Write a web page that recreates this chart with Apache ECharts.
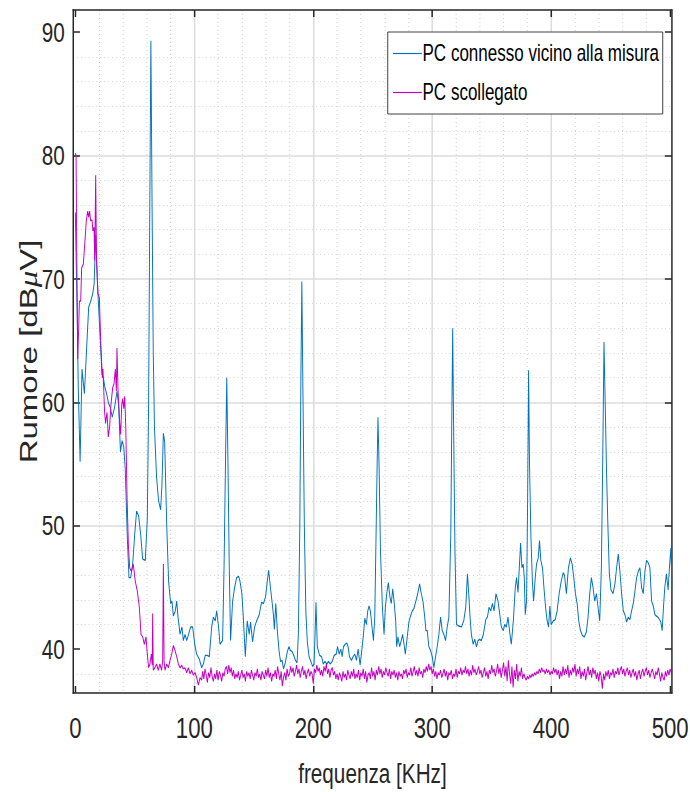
<!DOCTYPE html>
<html>
<head>
<meta charset="utf-8">
<title>Rumore</title>
<script src="https://cdn.jsdelivr.net/npm/echarts@6/dist/echarts.min.js"></script>
<style>
  html, body { margin: 0; padding: 0; background: #fff; overflow: hidden; width: 690px; height: 792px; }
  /* the original figure is squeezed horizontally: draw wide, then scale x */
  #chart { position: absolute; left: 0; top: 0; width: 932px; height: 792px; transform: scaleX(0.74); transform-origin: 0 0; }
</style>
</head>
<body>
<div id="chart"></div>
<script>
// tick labels
const xTicks = [0, 100, 200, 300, 400, 500];
const yTicks = [40, 50, 60, 70, 80, 90];

// PC connesso vicino alla misura (blue)
const blueFreq = [
  0, 0.8, 1.5, 2.5, 4, 5.6, 7.6, 9.5, 11.2, 12.9,
  14.6, 15.8, 17.1, 17.9, 19, 20.7, 22.4, 23.5, 24.9, 26.3,
  28, 29.4, 31, 33, 35, 36.4, 37.9, 39.3, 40.7, 42,
  43.7, 45.1, 46.5, 48.2, 49.9, 51.5, 53.2, 54.9, 56.6, 58.8,
  60.5, 61.6, 62.6, 63.5, 64.5, 65.5, 66.5, 68.3, 70, 71.7,
  72.8, 74, 75.1, 76.8, 78.4, 80.1, 81.2, 82.4, 84, 85.2,
  86.3, 88, 89.6, 90.8, 92.2, 93.6, 95.2, 96.9, 98.6, 100.5,
  102, 104.2, 106.2, 107.6, 109.2, 110.9, 112.6, 114.6, 116, 117.6,
  118.8, 120.4, 121.6, 123.8, 125, 126.2, 127.3, 128.3, 129.4, 130.5,
  132.2, 133.9, 135.6, 137.3, 138.4, 140, 141.2, 142.9, 144.5, 146.2,
  147.3, 149, 150.7, 152.4, 154.6, 156.5, 158.2, 160, 161.2, 162.5,
  164, 165.4, 166.5, 167.3, 168.5, 169.8, 171.2, 172.5, 173.8, 175,
  176.5, 178.2, 179.5, 180.8, 182.2, 183.6, 185, 186.4, 187.5, 188.7,
  189.6, 190.4, 191.3, 192.5, 193.8, 195, 196.5, 198, 199.5, 200.7,
  201.6, 202.3, 203.4, 205.3, 207, 208.4, 209.8, 211.5, 212.8, 214.2,
  215.9, 217.6, 219.3, 220.4, 221.8, 223.2, 224.3, 225.4, 226.8, 228.2,
  229.3, 230.4, 232.1, 233.5, 234.9, 236.3, 237.7, 239.4, 240.8, 242.2,
  243.3, 244.7, 245.8, 246.9, 248, 249.2, 250.6, 251.7, 252.8, 253.7,
  254.4, 255.3, 256.5, 258.1, 259.5, 260.6, 261.8, 263.1, 264.5, 265.6,
  266.8, 267.9, 269.3, 270.1, 271.2, 272.6, 274, 275.1, 276.3, 277.4,
  279, 280.4, 281.8, 283.2, 284.6, 286.3, 288, 289.4, 290.8, 292.2,
  293.6, 294.7, 295.8, 297.2, 298.6, 300, 301.4, 302.8, 304.2, 305.6,
  307, 308.4, 309.8, 311.2, 312.6, 314, 315.6, 316.4, 317.2, 318,
  319.1, 320.4, 321.8, 324.6, 326.5, 328.2, 329.6, 330.7, 331.8, 332.9,
  334.4, 335.8, 337.2, 338.5, 339.9, 341.3, 343, 345, 346.4, 347.8,
  349.2, 350.6, 352, 353.6, 355.3, 356.7, 358.1, 359.8, 360.9, 362.3,
  363.7, 365.1, 366.5, 368.2, 369.8, 370.9, 372.1, 373.2, 374.3, 375.4,
  376.5, 377.4, 378.2, 379.3, 380.2, 381, 381.8, 383, 384.2, 385.2,
  386.6, 387.7, 389.1, 390.2, 391.3, 392.7, 393.9, 395.3, 396.6, 397.8,
  398.9, 400, 401.7, 403.4, 405, 406.7, 408.4, 410.1, 411.2, 412.8,
  414.5, 416.2, 417.6, 419, 420.4, 421.8, 423.2, 424.6, 426.3, 427.9,
  429.6, 431, 432.4, 433.8, 435.2, 436.6, 438, 439.4, 440.8, 442.2,
  443.3, 444.4, 445.4, 446.4, 447.5, 448.9, 450.3, 452, 453.6, 455,
  456.4, 457.8, 459.2, 460.6, 462, 463.4, 464.8, 466.2, 467.6, 469,
  470.4, 471.8, 473.2, 474.6, 476, 477.4, 478.8, 480.2, 481.6, 483,
  484.4, 485.8, 487.2, 488.3, 489.7, 491.1, 492.2, 493.3, 494.4, 495.5,
  496.9, 498.3, 499.4, 500.6, 501.5
];
const blueLevel = [
  75.4, 71, 67.5, 61, 55.2, 62.7, 60.7, 64.4, 67.7, 68.2,
  68.8, 69.6, 73.6, 71.5, 68.8, 65.5, 62.3, 62, 61.2, 60.7,
  59.9, 59.6, 58.8, 59.6, 60.9, 59.8, 56, 56.9, 56.4, 54.5,
  49, 45.8, 45.8, 46.9, 49.3, 51.2, 50.8, 49.3, 47.3, 47.2,
  50.6, 60, 76, 89.3, 76, 64, 58, 53.9, 52, 51.3,
  53.3, 57.5, 56.8, 50.1, 45.5, 43.7, 43.9, 42.7, 43.1, 43.9,
  42.6, 41.2, 41.8, 40.7, 41.2, 40.7, 41.2, 41.8, 41.8, 40.3,
  39.6, 39.2, 38.5, 38.8, 39.5, 39.5, 39.4, 41.8, 42.6, 42.3,
  43.1, 41.8, 40.4, 40.7, 46.6, 55, 62, 55, 46.6, 40.7,
  43.9, 45, 45.8, 45.9, 45.5, 44.5, 42.6, 39.4, 42.3, 41.2,
  42.2, 40.6, 41.8, 42.3, 42.8, 43.8, 43.7, 44.3, 45.4, 46.4,
  45, 43.8, 42.8, 41.6, 43.7, 41.5, 39.9, 39, 39.1, 38.4,
  38.9, 39.8, 40.2, 39.9, 39.8, 39.5, 39.1, 38.9, 41.3, 50,
  62, 69.8, 61, 50, 43, 40.6, 39.4, 39, 38.6, 38.8,
  41.5, 43.8, 40.2, 39.5, 39.4, 38.8, 39, 38.8, 39, 38.8,
  39, 39.5, 39.6, 40.2, 39.6, 40, 39.4, 40.2, 40.4, 40.5,
  40.2, 39.4, 39.1, 39.4, 39.6, 39.1, 40, 38.7, 39.9, 41.2,
  42.5, 42, 43.1, 43.5, 43.1, 42, 40.7, 42.6, 49.3, 55,
  58.8, 55, 48, 43.4, 41.2, 43.4, 44.5, 45.4, 44.2, 43.7,
  44.9, 43.9, 42.3, 40.2, 41, 40.2, 40.7, 41.2, 40.4, 39.6,
  41, 42.2, 42.7, 43.1, 43.3, 43.9, 44.6, 45.3, 44.5, 43.9,
  42.7, 41.5, 41.5, 40.2, 39.9, 39.4, 38.5, 39.4, 40.2, 41.2,
  42.6, 41.5, 41.2, 40.7, 41.8, 42.6, 49.3, 58, 66, 58,
  48, 42, 41.9, 41.8, 42.3, 43.4, 46.1, 44.5, 42.6, 41.2,
  40.4, 40.8, 40.2, 40.7, 40.8, 40.7, 41.2, 42.4, 42.6, 43.4,
  43.1, 43.7, 43.1, 44.5, 43.9, 42.9, 41.8, 41.5, 42, 41.8,
  42.6, 41.4, 40.4, 42.3, 45, 45.8, 44.6, 46.6, 48.6, 46.6,
  46.9, 45.8, 42.8, 43.9, 52, 62.6, 55, 49, 45.5, 43.9,
  45.8, 46.9, 47.4, 48.8, 47.2, 46.6, 45, 43.4, 42.3, 41.8,
  43.5, 42, 42.3, 42.4, 43.1, 44.5, 45.5, 46.2, 46, 44.5,
  46.6, 47.4, 46.9, 45.8, 44.5, 43.7, 42.3, 41.5, 41.1, 41,
  41.4, 42.6, 44.5, 45.8, 45, 43.9, 44.5, 43.4, 42.3, 46.6,
  55, 64.9, 60, 55, 50.6, 46.1, 44.8, 44.5, 45.3, 46.6,
  47.7, 46.3, 44.5, 43.1, 42.8, 42.2, 42.6, 42.4, 43.1, 43.7,
  44.7, 45.8, 46.3, 46.6, 45, 44.5, 46.3, 47.2, 47, 46.6,
  43.9, 43.5, 42.8, 42.7, 42.6, 42.4, 42.2, 41.5, 43.4, 45,
  46.1, 44.8, 46.6, 48.2, 45
];

// PC scollegato (magenta), low-frequency part
const magentaFreq = [
  0, 0.6, 1.2, 2, 2.8, 3.4, 4.5, 5.3, 6.7, 8.1,
  9.2, 10.4, 11.2, 12, 12.9, 14, 14.8, 15.7, 16.3, 17.1,
  17.8, 19, 20.2, 21.3, 22.7, 23.2, 24.6, 25.4, 26.6, 27.7,
  28.8, 29.9, 31.4, 32.5, 33.6, 34.5, 35, 35.9, 37.3, 38.1,
  39, 39.8, 40.7, 41.5, 42.4, 43.5, 44.6, 45.7, 47.1, 48.7,
  50.4, 52.1, 53.8, 55.2, 56.6, 58, 59.4, 60.5, 61.6, 62.7,
  63.9, 64.6, 65, 65.5, 66.9, 68.3, 69.7, 71.1, 72.5, 73.4,
  74, 74.6, 75.4, 76.8, 78.2, 79.6, 81, 82.4, 83.8, 85.2,
  86.6, 88, 89.4, 90.8, 92.2, 93.6, 95, 96.4, 97.8, 99.2,
  100.6, 102, 103.4, 104.8, 106.2
];
const magentaLevel = [
  80.2, 80, 72, 63.5, 66, 68.2, 68.2, 70.9, 71.2, 73.1,
  74.7, 75.5, 75, 75.5, 74.7, 74.8, 73.9, 74.2, 71.5, 78.4,
  71.5, 68.8, 68.5, 65, 62, 62.7, 59.2, 58.3, 59.2, 57.2,
  58, 59.8, 61.2, 61.5, 62.7, 60.9, 64.4, 60.9, 58.3, 57.4,
  59.8, 60.3, 59.5, 60.5, 58, 52.2, 48.4, 46.6, 46.3, 46.9,
  45.5, 44.7, 43.4, 41.2, 41, 40.4, 41, 39.6, 38.5, 38.8,
  39.6, 38.7, 42.9, 38.3, 38.5, 38.8, 38.3, 38.8, 38.3, 39,
  46.9, 39, 38.3, 38.8, 38.5, 39.1, 39.6, 40.3, 39.9, 39.4,
  38.8, 38.5, 38.7, 38.4, 38.5, 38.1, 38.5, 38, 38.3, 37.9,
  38.1, 37.7, 37.1, 37.7, 37.5
];

// PC scollegato noise floor, one reading per kHz from 107 kHz
const floorStart = 107;
const floorLevel = [
  38.2, 37.6, 38.4, 37.9, 37.3, 38.1, 37.7, 38.5, 37.8, 37.4,
  38.0, 37.6, 38.3, 37.5, 38.2, 37.9, 37.4, 38.1, 37.8, 38.4,
  38.6, 38.0, 38.7, 38.1, 38.5, 37.8, 38.3, 37.6, 38.0, 37.7,
  38.2, 37.5, 37.9, 38.3, 37.7, 38.0, 37.4, 38.2, 37.8, 38.1,
  37.6, 38.3, 37.9, 37.5, 38.1, 37.8, 38.4, 37.7, 38.0, 37.5,
  38.2, 37.9, 37.6, 38.3, 37.8, 38.5, 37.7, 38.1, 37.4, 38.0,
  37.8, 38.3, 37.6, 38.6, 38.0, 37.5, 38.2, 37.0, 37.7, 38.1,
  37.5, 38.4, 37.8, 38.0, 38.6, 38.1, 38.5, 37.8, 38.2, 38.7,
  38.0, 38.4, 37.7, 38.2, 38.6, 37.9, 38.3, 37.6, 38.1, 38.4,
  37.8, 38.2, 38.0, 37.2, 38.4, 38.1, 38.7, 38.2, 38.5, 37.9,
  38.3, 37.8, 38.6, 38.2, 38.8, 38.0, 38.4, 37.7, 38.3, 38.5,
  37.9, 38.2, 37.6, 38.0, 37.5, 38.1, 37.8, 37.4, 38.2, 37.7,
  38.0, 37.5, 38.3, 37.9, 37.6, 38.2, 37.8, 38.4, 37.6, 38.0,
  37.7, 38.3, 37.5, 38.1, 37.8, 38.4, 37.6, 38.2, 37.3, 37.9,
  38.1, 37.6, 38.5, 37.8, 38.2, 37.5, 38.3, 37.9, 38.6, 38.0,
  38.4, 37.7, 38.2, 37.9, 38.5, 38.1, 37.8, 38.4, 37.6, 38.2,
  37.9, 38.3, 37.7, 38.1, 37.5, 38.2, 37.8, 38.0, 37.6, 38.3,
  38.0, 38.4, 37.7, 38.1, 37.9, 38.5, 37.8, 38.2, 38.6, 37.9,
  38.3, 37.8, 38.5, 38.0, 38.2, 37.7, 38.4, 38.1, 38.6, 38.2,
  38.8, 38.3, 38.6, 38.0, 38.4, 37.8, 38.2, 37.6, 38.1, 37.9,
  38.3, 37.7, 38.0, 38.4, 37.8, 38.2, 37.5, 38.1, 37.9, 38.3,
  37.6, 38.0, 37.8, 38.4, 37.7, 38.2, 38.0, 38.5, 37.9, 38.3,
  38.1, 38.6, 38.0, 38.4, 37.8, 38.3, 37.9, 38.7, 38.1, 38.4,
  37.9, 38.2, 38.6, 38.0, 38.3, 37.7, 38.1, 38.5, 37.8, 38.2,
  37.6, 38.3, 38.0, 38.7, 38.1, 38.4, 37.8, 38.2, 38.8, 38.0,
  38.5, 37.7, 38.3, 38.9, 37.8, 38.6, 37.4, 39.1, 38.0, 37.2,
  38.6, 36.9, 38.3, 37.6, 38.8, 37.4, 38.2, 37.8, 38.5, 37.6,
  38.0, 37.7, 37.5, 37.8, 37.6, 37.9, 37.7, 38.0, 37.8, 38.1,
  37.9, 38.2, 38.0, 38.4, 38.1, 38.5, 38.2, 38.3, 38.0, 38.4,
  38.1, 38.3, 37.9, 38.2, 38.0, 38.5, 38.1, 38.4, 37.9, 38.3,
  37.6, 38.2, 37.8, 38.6, 37.9, 38.4, 38.0, 38.7, 37.7, 38.3,
  37.9, 38.5, 38.1, 38.8, 37.8, 38.4, 38.0, 38.6, 37.6, 38.2,
  37.8, 38.4, 37.5, 38.1, 38.6, 37.9, 38.3, 37.7, 38.5, 38.0,
  38.3, 37.6, 38.1, 37.4, 38.2, 37.8, 36.8, 38.0, 37.5, 38.2,
  37.8, 38.3, 37.6, 38.1, 37.9, 38.4, 37.7, 38.2, 38.0, 38.5,
  37.9, 38.3, 38.6, 38.0, 38.4, 37.8, 38.2, 38.5, 37.9, 38.3,
  37.7, 38.1, 38.4, 37.8, 38.2, 37.5, 38.0, 38.3, 37.6, 38.1,
  38.4, 37.8, 38.2, 38.5, 37.9, 38.3, 37.7, 38.1, 38.4, 38.0,
  37.6, 38.2, 37.9, 38.5, 38.0, 37.4, 38.1, 37.7, 37.5, 38.2,
  37.8, 38.3, 37.9, 38.4, 38.1
];

const FONT = "'Liberation Sans', Arial, sans-serif";
const INK = '#262626';

const bluePoints = blueFreq.map((f, i) => [f, blueLevel[i]]);
const magentaPoints = magentaFreq.map((f, i) => [f, magentaLevel[i]])
  .concat(floorLevel.map((v, i) => [floorStart + i, v]));

const chart = echarts.init(document.getElementById('chart'), null, { renderer: 'svg' });

// top / right box edges with inward ticks, as in the MATLAB axes
function frameAxis(pos, min, max, ticks, vertical) {
  return {
    type: 'value', position: pos, min: min, max: max,
    axisLine: { show: true, onZero: false, lineStyle: { color: INK, width: vertical ? 2 : 1.5 } },
    axisTick: { show: true, inside: true, length: vertical ? 9.5 : 7, customValues: ticks,
                lineStyle: { color: INK, width: vertical ? 1.5 : 2 } },
    axisLabel: { show: false },
    splitLine: { show: false }
  };
}

const option = {
  animation: false,
  backgroundColor: '#fff',
  grid: { left: 98.6, right: 24, top: 10, bottom: 99, outerBoundsMode: 'none', containLabel: false },
  legend: {
    orient: 'vertical',
    left: 524, top: 32,
    backgroundColor: '#fff',
    borderColor: INK, borderWidth: 1,
    padding: [10, 5, 10, 7],
    icon: 'rect',
    itemGap: 16, itemWidth: 39, itemHeight: 1.2,
    textStyle: { fontSize: 23, lineHeight: 23, fontFamily: FONT, color: '#000', padding: [0, 0, 0, -4] }
  },
  xAxis: [
    {
      type: 'value', position: 'bottom', min: -2, max: 501.5,
      name: 'frequenza [KHz]', nameLocation: 'middle', nameGap: 66, nameMoveOverlap: false,
      nameTextStyle: { fontSize: 28, fontFamily: FONT, color: INK },
      axisLine: { show: true, onZero: false, lineStyle: { color: INK, width: 1.5 } },
      axisTick: { show: true, inside: true, length: 7, customValues: xTicks, lineStyle: { color: INK, width: 2 } },
      axisLabel: { customValues: xTicks, margin: 20, fontSize: 30, fontFamily: FONT, color: INK },
      splitLine: { show: true, showMinLine: false, showMaxLine: false, lineStyle: { color: '#dcdcdc', width: 2 } },
      minorTick: { show: false, splitNumber: 5 },
      minorSplitLine: { show: true, lineStyle: { color: '#cdcdcd', width: 1.3, type: [1, 3] } }
    },
    frameAxis('top', -2, 501.5, xTicks, false)
  ],
  yAxis: [
    {
      type: 'value', position: 'left', min: 36.45, max: 91.8,
      name: '{t|Rumore [dB}{m|\u03bc}{t|V]}', nameLocation: 'middle', nameGap: 44, nameRotate: 90,
      nameMoveOverlap: false,
      nameTextStyle: {
        rich: {
          t: { fontSize: 33, fontFamily: FONT, color: INK },
          m: { fontSize: 33, fontFamily: "'Liberation Serif', serif", fontStyle: 'italic', color: INK }
        }
      },
      axisLine: { show: true, onZero: false, lineStyle: { color: INK, width: 2 } },
      axisTick: { show: true, inside: true, length: 9.5, customValues: yTicks, lineStyle: { color: INK, width: 1.5 } },
      axisLabel: { customValues: yTicks, margin: 11, fontSize: 28, fontFamily: FONT, color: INK },
      splitLine: { show: true, showMinLine: false, showMaxLine: false, lineStyle: { color: '#dcdcdc', width: 1.5 } },
      minorTick: { show: false, splitNumber: 5 },
      minorSplitLine: { show: true, lineStyle: { color: '#cdcdcd', width: 1, type: [1.3, 4] } }
    },
    frameAxis('right', 36.45, 91.8, yTicks, true)
  ],
  series: [
    {
      name: 'PC connesso vicino alla misura',
      type: 'line', data: bluePoints,
      symbol: 'none', showSymbol: false,
      lineStyle: { color: '#0072BD', width: 1.3 },
      itemStyle: { color: '#0072BD' }
    },
    {
      name: 'PC scollegato',
      type: 'line', data: magentaPoints,
      symbol: 'none', showSymbol: false,
      lineStyle: { color: '#C400C4', width: 1.3 },
      itemStyle: { color: '#C400C4' }
    }
  ]
};

chart.setOption(option);
</script>
</body>
</html>
